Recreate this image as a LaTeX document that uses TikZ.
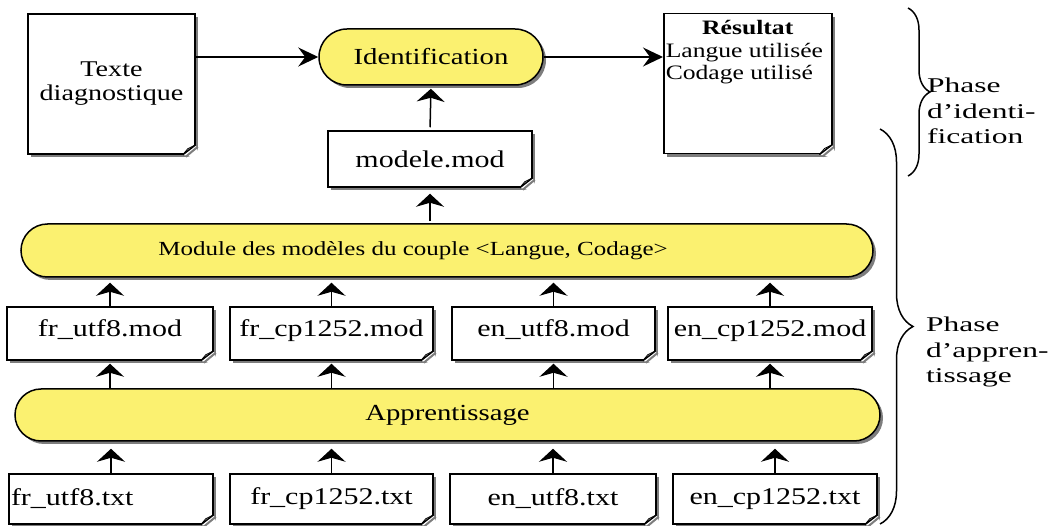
\documentclass[tikz,border=0pt]{standalone}
\usepackage{fontspec}
\setmainfont{Liberation Serif}[FakeStretch=1.25]
\newfontfamily\phasefont{Liberation Serif}[FakeStretch=1.5]
\usetikzlibrary{shapes.misc,shadows,arrows.meta,decorations.pathreplacing}

\definecolor{pillyellow}{RGB}{251,241,112}
\definecolor{shadowgray}{RGB}{125,125,125}

\tikzset{
  castshadow/.style={drop shadow={shadow xshift=3pt,shadow yshift=-3pt,fill=shadowgray,opacity=1}},
  docbox/.style={draw,line width=1.5pt,fill=white,inner sep=0pt,castshadow,
    font=\fontsize{24}{26}\selectfont},
  modbox/.style={docbox,minimum height=53pt,text depth=11pt},
  txtbox/.style={docbox,minimum height=50pt},
  pill/.style={rounded rectangle,draw,line width=1.5pt,fill=pillyellow,inner sep=0pt,castshadow,
    font=\fontsize{23}{25}\selectfont},
  up/.style={-{Stealth[length=13pt,width=28pt,inset=4pt]},line width=1.5pt},
  across/.style={-{Stealth[length=20pt,width=19pt,inset=7pt]},line width=1.5pt},
  phase/.style={anchor=west,align=left,inner sep=0pt,font=\phasefont\fontsize{21}{25.5}\selectfont},
  bracket/.style={decorate,line width=1.5pt},
}

\begin{document}
\begin{tikzpicture}[x=1pt,y=-1pt]
\useasboundingbox (0,0) rectangle (1050,526);

% phase d'identification
\node[docbox,minimum width=167pt,minimum height=140pt,align=center,font=\fontsize{22.5}{24}\selectfont]
  (texte) at (111.5,84) {Texte\\diagnostique};
\node[pill,minimum width=224pt,minimum height=56pt] (ident) at (431,57) {Identification};
\node[docbox,minimum width=168pt,minimum height=140pt,anchor=north west] (resultat) at (663,13)
  {\begin{minipage}[t][136pt][t]{164pt}\fontsize{20.5}{22.5}\selectfont
    \vspace{5pt}\centering\textbf{Résultat}\par
    \raggedright Langue utilisée\par Codage utilisé\end{minipage}};
\node[docbox,minimum width=204pt,minimum height=56pt] (modele) at (430,159) {modele.mod};

% modeles par couple
\node[pill,minimum width=852pt,minimum height=53pt,font=\fontsize{20}{22}\selectfont] (module) at (447,250.5)
  {Module des modèles du couple <Langue, Codage>\rule{68pt}{0pt}};
\node[modbox,minimum width=206pt] (frum) at (110,333.5) {fr\_utf8.mod};
\node[modbox,minimum width=203pt] (frcm) at (331.5,333.5) {fr\_cp1252.mod};
\node[modbox,minimum width=203pt] (enum) at (553.5,333.5) {en\_utf8.mod};
\node[modbox,minimum width=204pt] (encm) at (770,333.5) {en\_cp1252.mod};

% phase d'apprentissage
\node[pill,minimum width=865pt,minimum height=52pt] (appr) at (447.5,415) {Apprentissage};
\node[txtbox,minimum width=204pt,text width=200pt,align=left] (frut) at (111,499) {fr\_utf8.txt};
\node[txtbox,minimum width=203pt] (frct) at (331.5,499) {fr\_cp1252.txt};
\node[txtbox,minimum width=206pt] (enut) at (553,499) {en\_utf8.txt};
\node[txtbox,minimum width=204pt] (enct) at (775,499) {en\_cp1252.txt};

% coins cornes
\foreach \n in {texte,resultat,modele,frum,frcm,enum,encm,frut,frct,enut,enct}{
  \fill[white] ([xshift=-13pt]\n.south east) -- ([yshift=10pt]\n.south east)
    -- ([xshift=5pt,yshift=-5pt]\n.south east) -- cycle;
  \draw[shadowgray,line width=2pt] ([xshift=-10pt,yshift=-2pt]\n.south east) -- ([xshift=2pt,yshift=8pt]\n.south east);
  \draw[line width=1.5pt] ([xshift=-13pt]\n.south east) -- ([yshift=10pt]\n.south east);
  \draw[line width=0.8pt] ([xshift=-13pt]\n.south east) -- ([xshift=-8pt,yshift=6pt]\n.south east)
    -- ([yshift=10pt]\n.south east);
}

% fleches
\draw[across] (texte.east |- ident.west) -- (ident.west);
\draw[across] (ident.east) -- (resultat.west |- ident.east);
\draw[up,shorten <=3pt,shorten >=3pt] (modele.north) -- (ident.south);
\draw[up,shorten <=2pt,shorten >=6pt] (module.north -| modele.south) -- (modele.south);
\foreach \m/\t in {frum/frut,frcm/frct,enum/enut,encm/enct}{
  \draw[up,shorten >=5pt] (\m.north) -- (\m.north |- module.south);
  \draw[up,shorten >=3pt] (\m.south |- appr.north) -- (\m.south);
  \draw[up,shorten >=7pt] (\t.north) -- (\t.north |- appr.south);
}

% accolades
\draw[bracket,decoration={brace,amplitude=22pt}] (908,8) -- (908,176);
\node[phase] (phaseid) at (927,111) {Phase\\d’identi-\\fication};
\draw[bracket,decoration={brace,amplitude=33pt}] (880,129) -- (880,524);
\node[phase] (phaseap) at (926,352) {Phase\\d’appren-\\tissage};
\end{tikzpicture}
\end{document}
